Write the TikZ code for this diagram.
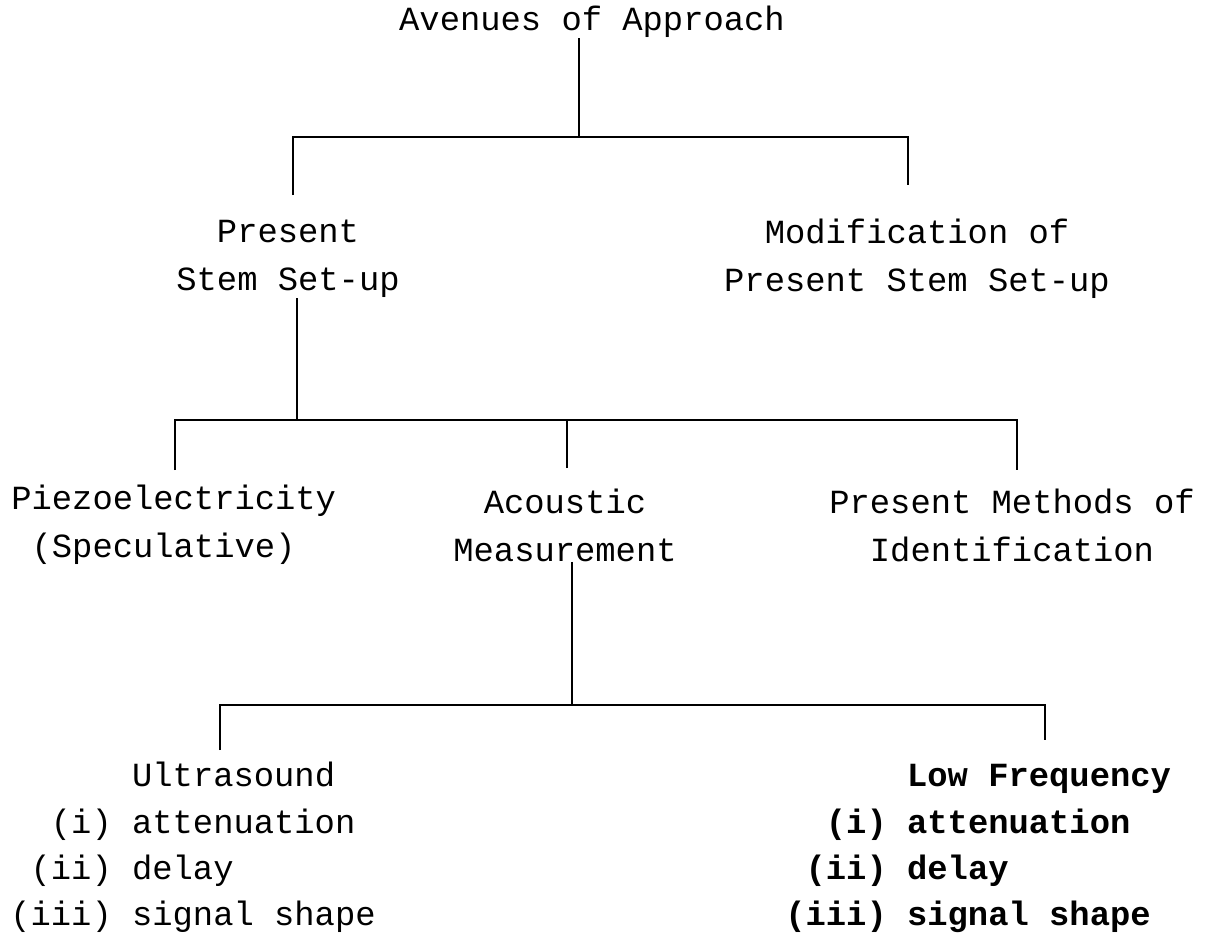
\documentclass[tikz,border=0pt]{standalone}
\usepackage{fontspec}
\setmainfont{Liberation Mono}
\usepackage{tikz}
\usetikzlibrary{positioning}
\tikzstyle{txt} = [inner sep=0pt, align=center, font=\fontsize{19.25}{27.3}\selectfont]
\tikzstyle{lst} = [inner sep=0pt, anchor=north west, font=\fontsize{19.25}{26.4}\selectfont]
\tikzstyle{treeline} = [draw, line width=1.5pt]

\begin{document}
\begin{tikzpicture}[x=0.02cm, y=-0.02cm]
    \useasboundingbox (0,0) rectangle (1210,946);
    % Nodes
    \node [txt] (root) at (592,22) {Avenues of Approach};
    \node [txt] (present) at (288,259) {Present\\Stem Set-up};
    \node [txt] (modif) at (917,259) {Modification of\\Present Stem Set-up};
    \node [txt, align=left, anchor=west] (piezo) at (11,525) {Piezoelectricity\\\hspace*{0.6em}(Speculative)};
    \node [txt] (acoustic) at (565,525) {Acoustic\\Measurement};
    \node [txt] (methods) at (1012,525) {Present Methods of\\Identification};
    \node [lst] (ultra) at (10,754) {\begin{tabular}{@{}r@{\ }l@{}}
        & Ultrasound\\ (i) & attenuation\\ (ii) & delay\\ (iii) & signal shape
      \end{tabular}};
    \node [lst, font=\fontsize{19.25}{26.4}\selectfont\bfseries] (lowfreq) at (785,754) {\begin{tabular}{@{}r@{\ }l@{}}
        & Low Frequency\\ (i) & attenuation\\ (ii) & delay\\ (iii) & signal shape
      \end{tabular}};

    % Junctions and drop ends
    \coordinate (j1) at (579,137);
    \coordinate (j2) at (297,420);
    \coordinate (j3) at (572,705);
    \coordinate (d1a) at (293,195);
    \coordinate (d1b) at (908,185);
    \coordinate (d2a) at (175,470);
    \coordinate (d2b) at (567,468);
    \coordinate (d2c) at (1017,470);
    \coordinate (d3a) at (220,750);
    \coordinate (d3b) at (1045,740);

    % Edges
    \path [treeline] (root.south -| j1) -- (j1);
    \path [treeline] (d1a) |- (j1) -| (d1b);
    \path [treeline] (present.south -| j2) -- (j2);
    \path [treeline] (d2a) |- (j2) -| (d2c);
    \path [treeline] (d2b) -- (d2b |- j2);
    \path [treeline] (acoustic.south -| j3) -- (j3);
    \path [treeline] (d3a) |- (j3) -| (d3b);
\end{tikzpicture}
\end{document}
